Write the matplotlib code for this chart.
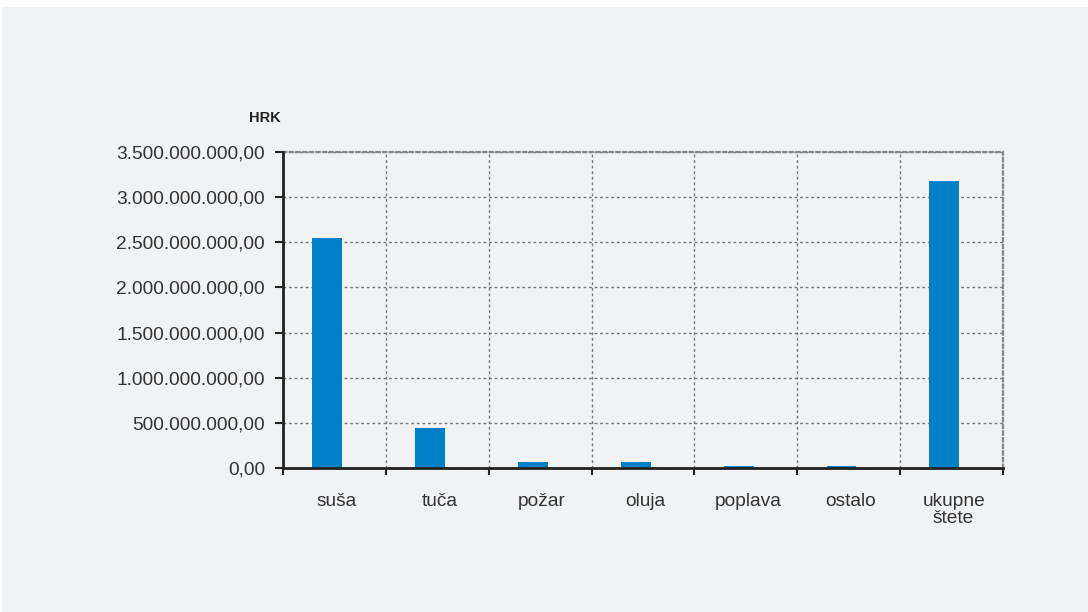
import matplotlib
matplotlib.use("Agg")
import matplotlib.pyplot as plt
from matplotlib.ticker import FuncFormatter, FixedLocator
from matplotlib.patches import Rectangle

categories = ["suša", "tuča", "požar", "oluja", "poplava", "ostalo", "ukupne\nštete"]
values = [2550000000, 443000000, 71000000, 70000000, 18000000, 18000000, 3180000000]
y_ticks = [0, 500e6, 1000e6, 1500e6, 2000e6, 2500e6, 3000e6, 3500e6]
unit_label = "HRK"

plt.rcParams['font.family'] = ['Liberation Sans', 'DejaVu Sans']

W, H = 1088, 612
fig = plt.figure(figsize=(W/100, H/100), dpi=100)
fig.patch.set_facecolor("white")
fig.patches.append(Rectangle((2/W, 0), 1 - 2/W, 1 - 7/H, transform=fig.transFigure,
                             facecolor="#F1F2F4", edgecolor="none", zorder=-10))

x0, x1 = 283, 1003
y0, y1 = 468, 152
ax = fig.add_axes([x0/W, 1 - y0/H, (x1-x0)/W, (y0-y1)/H])
ax.set_facecolor("none")

n = len(categories)
bar_x = [i + 0.43 for i in range(n)]
label_x = [i + 0.52 for i in range(n)]
ax.bar(bar_x, values, width=0.29, color="#0080C8", zorder=3)
ax.set_xlim(0, n)
ax.set_ylim(0, 3500e6)

def fmt(v, pos):
    s = f"{v:,.2f}"
    return s.replace(",", "X").replace(".", ",").replace("X", ".")

ax.yaxis.set_major_locator(FixedLocator(y_ticks))
ax.yaxis.set_major_formatter(FuncFormatter(fmt))
ax.set_xticks(range(n + 1))
ax.set_xticklabels([])
ax.set_xticks(label_x, minor=True)
ax.set_xticklabels(categories, minor=True, linespacing=1.0)
ax.tick_params(axis="x", which="minor", length=0, pad=18, labelsize=13.8, labelcolor="#333333")
ax.tick_params(axis="x", which="major", length=5, width=1.5, color="#222222", direction="out")
ax.tick_params(axis="y", length=6, width=1.5, color="#222222", labelsize=13.8, labelcolor="#333333", pad=7)

ax.grid(True, which="major", axis="both", linestyle=(0, (2, 2)), color="#777777", linewidth=1, zorder=0)
for s in ["top", "right"]:
    ax.spines[s].set_visible(True)
    ax.spines[s].set_linestyle((0, (1.5, 1.5)))
    ax.spines[s].set_color("#888888")
    ax.spines[s].set_linewidth(1.6)
for s in ["left", "bottom"]:
    ax.spines[s].set_color("#222222")
    ax.spines[s].set_linewidth(2)
    ax.spines[s].set_zorder(5)

fig.text(281/W, 1 - 118/H, unit_label, ha="right", va="center", fontsize=10.5, fontweight="bold", color="#222222")

fig.savefig("out.png", dpi=100)
